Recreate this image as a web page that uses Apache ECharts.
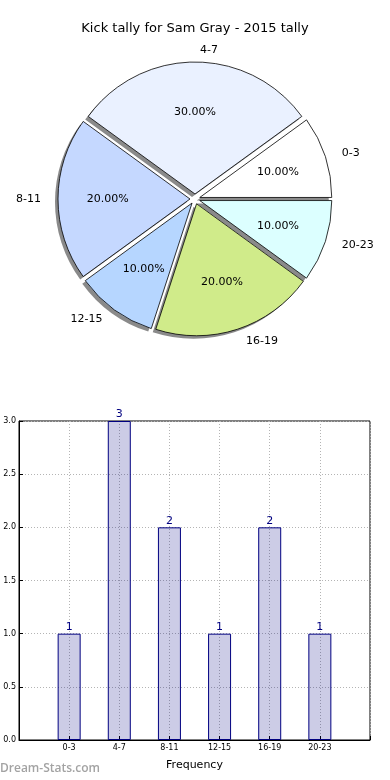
<!DOCTYPE html>
<html><head><meta charset="utf-8">
<script src="https://cdn.jsdelivr.net/npm/echarts@6/dist/echarts.min.js"></script>
<style>html,body{margin:0;padding:0;background:#fff}#c{width:390px;height:780px}</style>
</head><body><div id="c"></div>
<script>
const titleText = 'Kick tally for Sam Gray - 2015 tally';
const categories = ['0-3', '4-7', '8-11', '12-15', '16-19', '20-23'];
const counts = [1, 3, 2, 1, 2, 1];
const sliceColors = ['#ffffff', '#eaf1ff', '#c5d8ff', '#b6d6ff', '#d0eb8a', '#dcffff'];
const yTicks = [0, 0.5, 1, 1.5, 2, 2.5, 3];

const font = 'DejaVu Sans';
const R = 132, cx = 195, cy = 199;
const pieData = categories.map((c, i) => ({name: c, value: counts[i], selected: true,
  itemStyle: {color: sliceColors[i]}}));

const chart = echarts.init(document.getElementById('c'), null, {renderer: 'canvas'});
chart.setOption({
  animation: false,
  textStyle: {fontFamily: font},
  title: {text: titleText, left: 'center', top: 17,
    textStyle: {fontFamily: font, fontSize: 13, fontWeight: 'normal', color: '#000'}},
  graphic: [{type: 'text', left: 0, top: 763,
    style: {text: 'Dream-Stats.com', font: '600 12px "Open Sans"', fill: '#a3a3a3'}}],
  series: [
    { // shadow
      type: 'pie', silent: true, center: [cx - 3, cy + 3], radius: [0, R],
      startAngle: 0, clockwise: false, selectedMode: 'multiple', selectedOffset: 5,
      avoidLabelOverlap: false, z: 1,
      label: {show: false}, labelLine: {show: false},
      itemStyle: {color: '#8a8a8a', borderWidth: 0},
      emphasis: {disabled: true},
      data: categories.map((c, i) => ({name: c, value: counts[i], selected: true}))
    },
    { // main slices with outside labels
      type: 'pie', silent: true, center: [cx, cy], radius: [0, R],
      startAngle: 0, clockwise: false, selectedMode: 'multiple', selectedOffset: 5,
      avoidLabelOverlap: false, z: 2,
      itemStyle: {borderColor: '#000', borderWidth: 0.8},
      label: {show: true, position: 'outside', fontFamily: font, fontSize: 11, color: '#000'},
      labelLine: {show: false, length: 12, length2: 0},
      emphasis: {disabled: true},
      data: pieData
    },
    { // percent labels
      type: 'pie', silent: true, center: [cx, cy], radius: [0, R * 1.2],
      startAngle: 0, clockwise: false, selectedMode: 'multiple', selectedOffset: 5,
      avoidLabelOverlap: false, z: 3,
      itemStyle: {color: 'rgba(0,0,0,0)', borderWidth: 0},
      label: {show: true, position: 'inside', fontFamily: font, fontSize: 11, color: '#000',
        formatter: p => p.percent.toFixed(2) + '%'},
      labelLine: {show: false},
      emphasis: {disabled: true},
      data: categories.map((c, i) => ({name: c, value: counts[i], selected: true}))
    },
    {
      type: 'bar', xAxisIndex: 0, yAxisIndex: 0, barWidth: 23,
      itemStyle: {color: 'rgba(0,0,128,0.2)', borderColor: '#000080', borderWidth: 1},
      label: {show: true, position: 'top', distance: 1, color: '#000080', fontSize: 11, fontFamily: font},
      emphasis: {disabled: true},
      data: categories.map((c, i) => [i, counts[i]])
    }
  ],
  grid: {left: 19, right: 20, top: 421, bottom: 40, show: true, borderColor: '#000', borderWidth: 1,
    backgroundColor: '#fff'},
  xAxis: {type: 'value', min: -1, max: categories.length, interval: 1,
    name: 'Frequency', nameLocation: 'middle', nameGap: 20,
    nameTextStyle: {fontFamily: font, fontSize: 11, color: '#000'},
    axisLine: {show: true, onZero: false, lineStyle: {color: '#000'}},
    axisTick: {show: true, inside: true, length: 4, lineStyle: {color: '#000'}},
    axisLabel: {fontFamily: font, fontSize: 8, color: '#000', margin: 4,
      formatter: v => (v >= 0 && v < categories.length) ? categories[v] : ''},
    splitLine: {show: true, lineStyle: {color: '#b4b4b4', type: [1, 2], width: 1}}
  },
  yAxis: {type: 'value', min: yTicks[0], max: yTicks[yTicks.length - 1], interval: 0.5,
    axisLine: {show: true, onZero: false, lineStyle: {color: '#000'}},
    axisTick: {show: true, inside: true, length: 4, lineStyle: {color: '#000'}},
    axisLabel: {fontFamily: font, fontSize: 8, color: '#000', margin: 3,
      formatter: v => v.toFixed(1)},
    splitLine: {show: true, lineStyle: {color: '#b4b4b4', type: [1, 2], width: 1}}
  }
});
</script></body></html>
